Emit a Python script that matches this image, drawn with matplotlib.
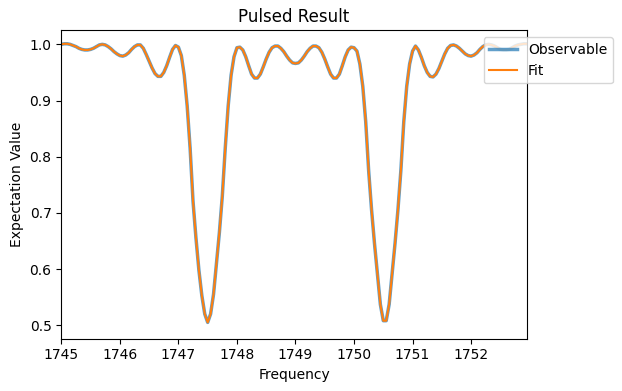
import numpy as np
import matplotlib.pyplot as plt

freq = np.round(np.arange(1745.0, 1753.0, 0.05), 2)

observable = [
    1.000, 1.001, 1.001, 1.000, 0.998, 0.996, 0.993, 0.991, 0.990, 0.990,
    0.991, 0.993, 0.996, 0.999, 1.000, 0.999, 0.996, 0.992, 0.987, 0.983,
    0.980, 0.979, 0.981, 0.985, 0.991, 0.996, 0.999, 0.999, 0.993, 0.982,
    0.970, 0.958, 0.948, 0.943, 0.943, 0.950, 0.962, 0.977, 0.991, 0.998,
    0.995, 0.980, 0.945, 0.890, 0.815, 0.720, 0.655, 0.598, 0.553, 0.520,
    0.505, 0.520, 0.555, 0.610, 0.665, 0.730, 0.815, 0.890, 0.945, 0.978,
    0.994, 0.995, 0.990, 0.978, 0.962, 0.947, 0.940, 0.940, 0.947, 0.960,
    0.974, 0.986, 0.994, 0.997, 0.997, 0.993, 0.987, 0.979, 0.972, 0.967,
    0.966, 0.967, 0.972, 0.979, 0.987, 0.993, 0.997, 0.997, 0.994, 0.986,
    0.974, 0.960, 0.947, 0.940, 0.940, 0.947, 0.962, 0.978, 0.990, 0.995,
    0.994, 0.988, 0.965, 0.925, 0.862, 0.775, 0.705, 0.645, 0.590, 0.537,
    0.508, 0.508, 0.537, 0.590, 0.645, 0.705, 0.775, 0.862, 0.925, 0.965,
    0.988, 0.997, 0.990, 0.977, 0.962, 0.950, 0.943, 0.942, 0.947, 0.957,
    0.970, 0.983, 0.993, 0.998, 0.999, 0.997, 0.993, 0.988, 0.983, 0.980,
    0.979, 0.981, 0.985, 0.991, 0.996, 0.999, 1.000, 0.999, 0.997, 0.994,
    0.991, 0.990, 0.990, 0.991, 0.994, 0.997, 0.999, 1.000, 1.001, 1.001,
]
# fit overlays the data almost exactly
fit = list(observable)

fig = plt.figure(figsize=(6.22, 3.91), dpi=100)
ax = fig.add_axes([0.0986, 0.1338, 0.7482, 0.7887])

ax.plot(freq, observable, color='tab:blue', lw=2.5, alpha=0.7, label='Observable')
ax.plot(freq, fit, color='tab:orange', lw=1.5, label='Fit')

ax.set_xlim(1745, 1752.95)
ax.set_ylim(0.476, 1.025)
ax.set_yticks([0.5, 0.6, 0.7, 0.8, 0.9, 1.0])
ax.set_title('Pulsed Result')
ax.set_xlabel('Frequency')
ax.set_ylabel('Expectation Value')
ax.legend(loc='upper right', bbox_to_anchor=(1.2, 1.0))

fig.savefig('out.png', dpi=100)
